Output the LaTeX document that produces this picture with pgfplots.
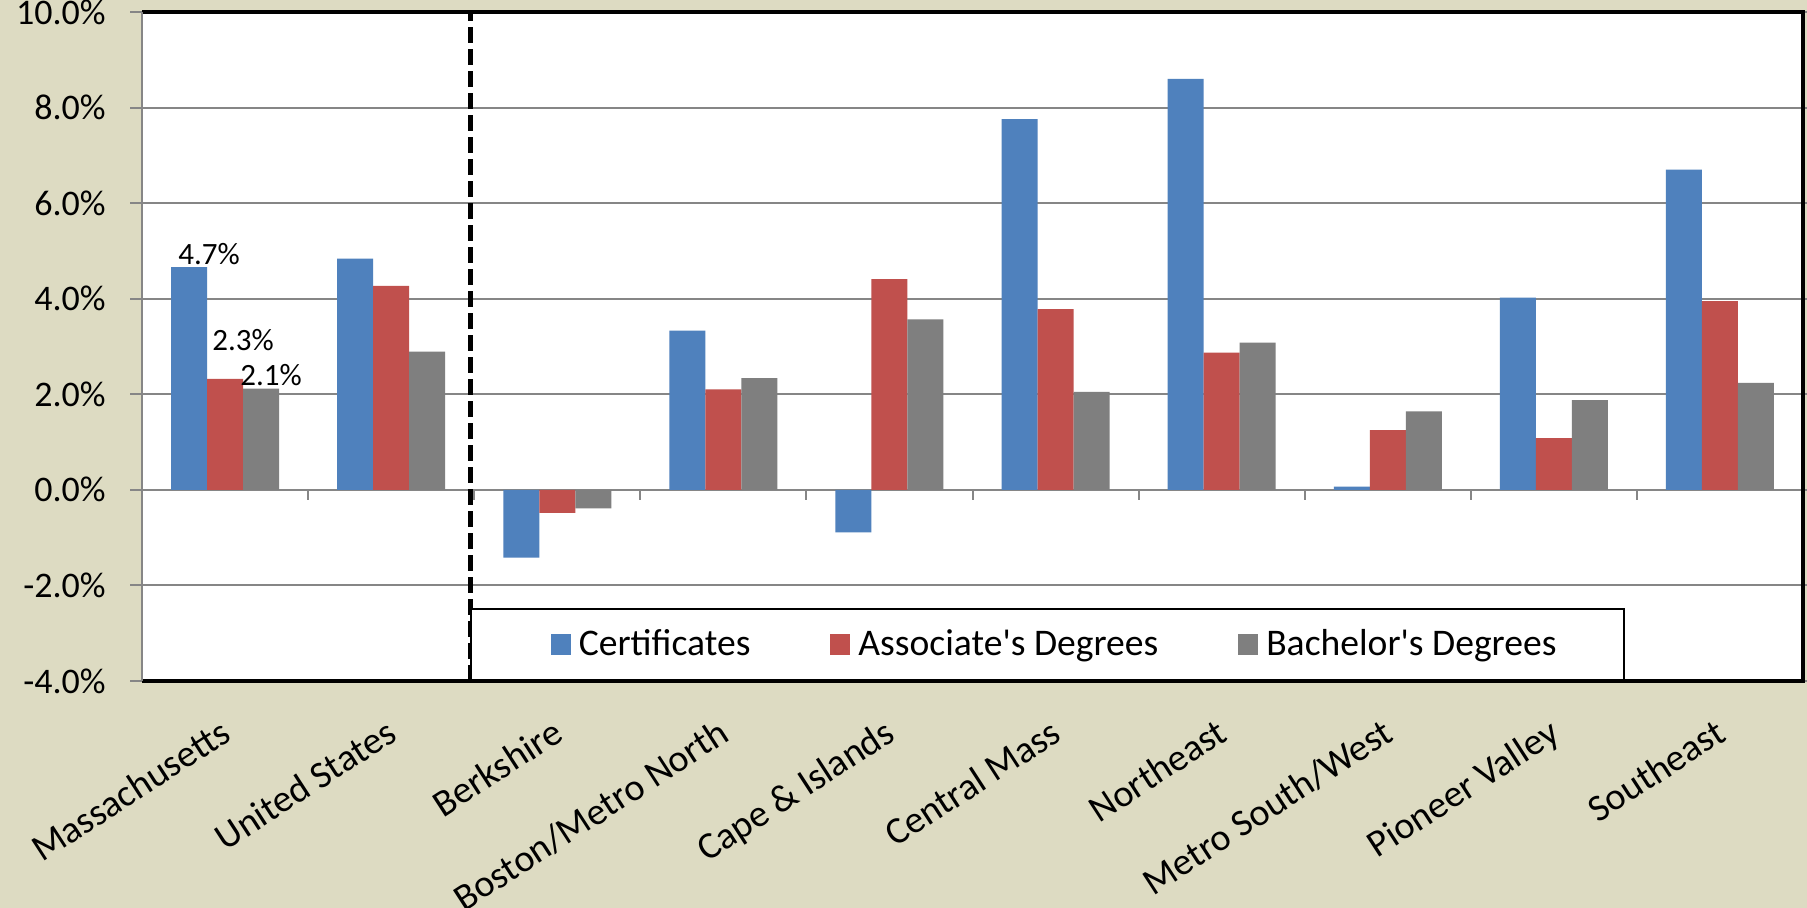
\documentclass[border=0pt]{standalone}
\usepackage{pgfplots}
\pgfplotsset{compat=1.18}
\usepackage{fontspec}
\setmainfont{Carlito}
\definecolor{bgc}{RGB}{221,219,194}
\definecolor{cblue}{HTML}{4F81BD}
\definecolor{cred}{HTML}{C0504D}
\definecolor{cgray}{HTML}{7F7F7F}
\definecolor{gridc}{HTML}{868686}
\begin{document}
\begin{tikzpicture}
\fill[bgc] (0,0) rectangle (903.5pt,454pt);
\useasboundingbox (0,0) rectangle (903.5pt,454pt);
\begin{axis}[
  at={(71pt,113.5pt)}, anchor=south west,
  width=830.5pt, height=334.5pt, scale only axis,
  clip=false,
  axis background/.style={fill=white},
  axis line style={draw=none},
  ybar=0pt, bar width=18pt,
  xmin=-0.5, xmax=9.5,
  ymin=-4, ymax=10,
  ytick={-4,-2,0,2,4,6,8,10},
  /pgf/number format/assume math mode=true,
  yticklabel={\pgfmathprintnumber[fixed,fixed zerofill,precision=1]{\tick}\%},
  yticklabel style={font=\fontsize{18}{20}\selectfont, inner sep=0pt},
  yticklabel shift=12pt,
  ymajorgrids, grid style={gridc, line width=1pt},
  tick align=outside, major tick length=6pt,
  ytick style={gridc, line width=1pt},
  xtick={0,...,9},
  xtick style={draw=none},
  xticklabels={Massachusetts, United States, Berkshire, Boston/Metro North, Cape \& Islands, Central Mass, Northeast, Metro South/West, Pioneer Valley, Southeast},
  xticklabel style={xshift=0.5pt, font=\fontsize{19}{21}\selectfont, rotate=33, anchor=east, inner sep=0pt, text height=13pt, text depth=0pt},
  xticklabel shift=17.5pt,
  every axis plot post/.append style={legend image code/.code={\path (-9.9pt,0pt); \fill[##1] (0pt,-5.25pt) rectangle (10pt,5.25pt);}},
  legend columns=3,
  legend style={at={(axis cs:1.475,-4)}, anchor=south west, draw=black, line width=1pt, fill=white,
    inner xsep=30pt, inner ysep=6.5pt,
    font=\fontsize{18.8}{20}\selectfont,
    /tikz/every even column/.append style={column sep=26.1pt},
    nodes={inner sep=4pt}},
]
\addplot[fill=cblue, draw=none, nodes near coords, point meta=explicit symbolic,
  nodes near coords style={font=\fontsize{15.5}{17}\selectfont, anchor=south, xshift=10pt, inner sep=1pt}]
  coordinates {(0,4.66) [4.7\%] (1,4.84) [] (2,-1.42) [] (3,3.33) [] (4,-0.89) [] (5,7.76) [] (6,8.60) [] (7,0.07) [] (8,4.02) [] (9,6.70) []};
\addplot[fill=cred, draw=none, nodes near coords, point meta=explicit symbolic,
  nodes near coords style={font=\fontsize{15.5}{17}\selectfont, anchor=south, xshift=9pt, yshift=13pt, inner sep=1pt}]
  coordinates {(0,2.32) [2.3\%] (1,4.27) [] (2,-0.48) [] (3,2.10) [] (4,4.41) [] (5,3.78) [] (6,2.87) [] (7,1.25) [] (8,1.08) [] (9,3.95) []};
\addplot[fill=cgray, draw=none, nodes near coords, point meta=explicit symbolic,
  nodes near coords style={font=\fontsize{15.5}{17}\selectfont, anchor=south, xshift=5pt, inner sep=1pt}]
  coordinates {(0,2.12) [2.1\%] (1,2.89) [] (2,-0.39) [] (3,2.34) [] (4,3.57) [] (5,2.05) [] (6,3.08) [] (7,1.64) [] (8,1.88) [] (9,2.24) []};
\legend{Certificates, Associate\textquotesingle s Degrees, Bachelor\textquotesingle s Degrees}
\addplot[sharp plot, black, line width=2.5pt, dash pattern=on 8pt off 3pt, forget plot]
  coordinates {(1.475,-4) (1.475,10)};
\pgfplotsinvokeforeach{0.5,1.5,2.5,3.5,4.5,5.5,6.5,7.5,8.5,9.5}{
  \draw[gridc, line width=1pt] (axis cs:#1,0) -- ++(0pt,-5pt);
}
\draw[black, line width=1.6pt] (rel axis cs:0,1) -- (rel axis cs:1,1) -- (rel axis cs:1,0) -- (rel axis cs:0,0);
\draw[gridc, line width=1.2pt] (rel axis cs:0,0) -- (rel axis cs:0,1);
\end{axis}
\end{tikzpicture}
\end{document}
